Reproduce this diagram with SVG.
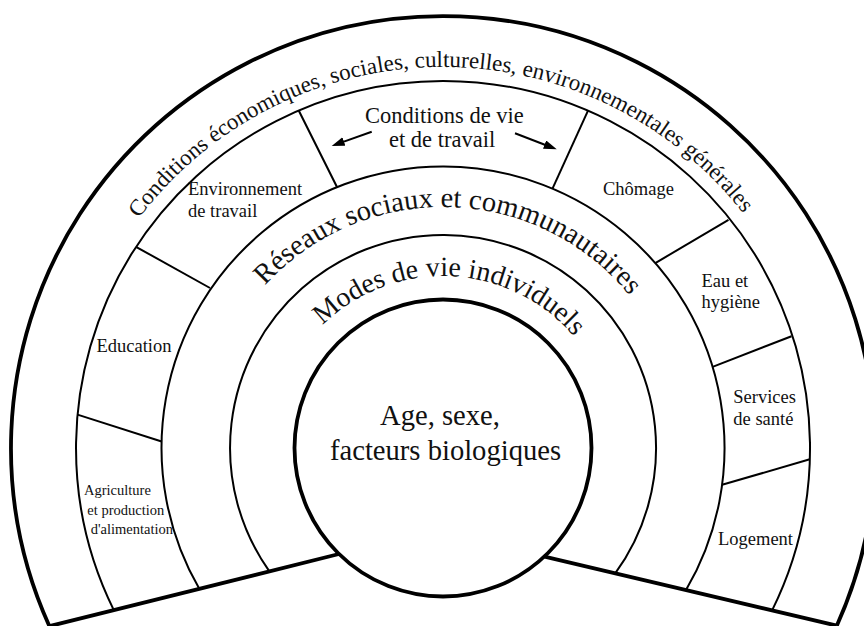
<svg xmlns="http://www.w3.org/2000/svg" width="864" height="626" viewBox="0 0 864 626">
<style>
.bold{fill:none;stroke:#000;stroke-width:3.8}
.thin{fill:none;stroke:#000;stroke-width:2}
text{font-family:'Liberation Serif','Times New Roman','DejaVu Serif',serif;fill:#111}
.lbl{font-size:18.5px}
.small{font-size:14.5px}
.big{font-size:28.5px}
.mid{font-size:22.5px}
</style>
<defs>
<path id="p-outer" d="M 62,448 A 381,381 0 0 1 824,448"/>
<path id="p-res" d="M 202,448 A 241,241 0 0 1 684,448"/>
<path id="p-mod" d="M 271,448 A 172,172 0 0 1 615,448"/>
<marker id="ah" markerUnits="userSpaceOnUse" markerWidth="14" markerHeight="10" refX="3" refY="4.5" orient="auto">
<path d="M0,0 L13,4.5 L0,9 z" fill="#000"/>
</marker>
</defs>
<rect width="864" height="626" fill="#fff"/>
<g font-family="'Liberation Serif','Times New Roman',serif">

<g id="outer-band">
<path class="bold" d="M 49.4,626.2 A 432,432 0 1 1 836.8,625.7"/>
<text font-family="'Liberation Serif','Times New Roman',serif" font-size="23"><textPath href="#p-outer" startOffset="595" text-anchor="middle">Conditions économiques, sociales, culturelles, environnementales générales</textPath></text>
</g>

<g id="living-band">
<path class="thin" d="M 113.8,610.1 A 367,367 0 1 1 772.1,610.4"/>
<line class="thin" x1="298.7" y1="110.5" x2="337.1" y2="187.2"/>
<line class="thin" x1="136" y1="246.8" x2="210" y2="288"/>
<line class="thin" x1="77.5" y1="414.6" x2="161.6" y2="441.5"/>
<line class="thin" x1="587.9" y1="110.8" x2="552.5" y2="188.7"/>
<line class="thin" x1="728.5" y1="219.8" x2="655.3" y2="263.1"/>
<line class="thin" x1="791.5" y1="336.2" x2="712.6" y2="366.9"/>
<line class="thin" x1="809.8" y1="459.3" x2="722.1" y2="484.8"/>
</g>

<g id="conditions-vie-travail">
<text class="mid" font-family="'Liberation Serif','Times New Roman',serif" x="365" y="122.5">Conditions de vie</text>
<text class="mid" font-family="'Liberation Serif','Times New Roman',serif" x="389" y="147">et de travail</text>
</g>
<g id="environnement-travail">
<text class="lbl" font-family="'Liberation Serif','Times New Roman',serif" x="188" y="195">Environnement</text>
<text class="lbl" font-family="'Liberation Serif','Times New Roman',serif" x="188" y="217">de travail</text>
</g>
<g id="education"><text class="lbl" font-family="'Liberation Serif','Times New Roman',serif" x="96.5" y="352.3">Education</text></g>
<g id="agriculture">
<text class="small" font-family="'Liberation Serif','Times New Roman',serif" x="84" y="494.7">Agriculture</text>
<text class="small" font-family="'Liberation Serif','Times New Roman',serif" x="87.3" y="514.7">et production</text>
<text class="small" font-family="'Liberation Serif','Times New Roman',serif" x="90.7" y="533.7">d'alimentation</text>
</g>
<g id="chomage"><text class="lbl" font-family="'Liberation Serif','Times New Roman',serif" x="603" y="195">Chômage</text></g>
<g id="eau-hygiene">
<text class="lbl" font-family="'Liberation Serif','Times New Roman',serif" x="701.5" y="287.3">Eau et</text>
<text class="lbl" font-family="'Liberation Serif','Times New Roman',serif" x="701.5" y="308.3">hygiène</text>
</g>
<g id="services-sante">
<text class="lbl" font-family="'Liberation Serif','Times New Roman',serif" x="733.3" y="403.3">Services</text>
<text class="lbl" font-family="'Liberation Serif','Times New Roman',serif" x="733.3" y="425">de santé</text>
</g>
<g id="logement"><text class="lbl" font-family="'Liberation Serif','Times New Roman',serif" x="718" y="545.3">Logement</text></g>

<g id="reseaux-band">
<path class="thin" d="M 199.3,588.8 A 281.5,281.5 0 1 1 686,590.1"/>
<text class="big" font-family="'Liberation Serif','Times New Roman',serif"><textPath href="#p-res" startOffset="385" text-anchor="middle">Réseaux sociaux et communautaires</textPath></text>
</g>

<g id="modes-band">
<path class="thin" d="M 269.4,571.3 A 213,213 0 1 1 615.2,573.4"/>
<text font-family="'Liberation Serif','Times New Roman',serif" font-size="28"><textPath href="#p-mod" startOffset="277.7" text-anchor="middle">Modes de vie individuels</textPath></text>
</g>

<g id="core">
<circle class="bold" cx="443" cy="448" r="148.5"/>
<text font-family="'Liberation Serif','Times New Roman',serif" font-size="28.6" x="380" y="424.7">Age, sexe,</text>
<text font-family="'Liberation Serif','Times New Roman',serif" font-size="28.6" x="330" y="459.7">facteurs biologiques</text>
</g>

<g id="base">
<line class="bold" x1="339" y1="554" x2="49.4" y2="626.2"/>
<line class="bold" x1="544.5" y1="556.7" x2="836.8" y2="625.7"/>
</g>

<g id="connectors">
<line class="thin" x1="371.7" y1="131.7" x2="341.1" y2="142.6" marker-end="url(#ah)"/>
<line class="thin" x1="515" y1="133.3" x2="547.4" y2="145.7" marker-end="url(#ah)"/>
</g>
</g>
</svg>
